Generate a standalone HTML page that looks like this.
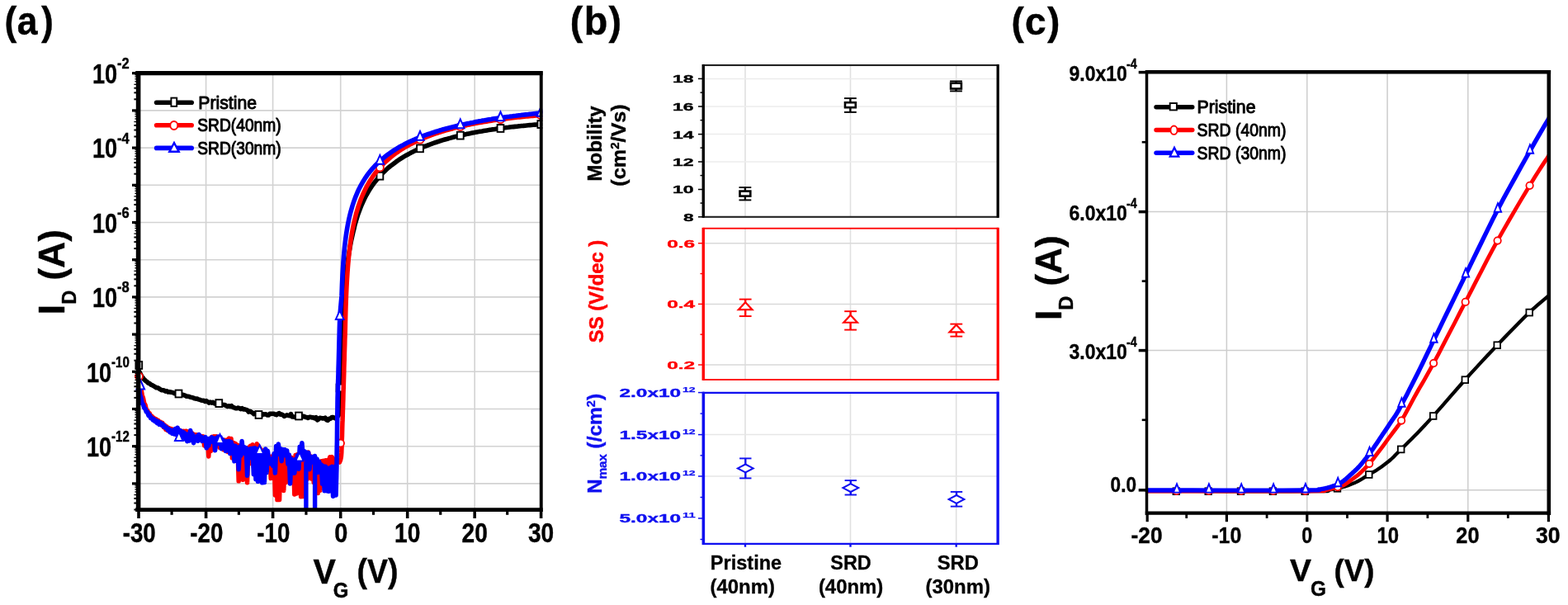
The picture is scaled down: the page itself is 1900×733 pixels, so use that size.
<!DOCTYPE html>
<html lang="en">
<head>
<meta charset="utf-8">
<title>Transfer characteristics</title>
<style>
html,body{margin:0;padding:0;background:#fff;}
body{width:1900px;height:733px;overflow:hidden;}
svg{display:block;font-family:"Liberation Sans", sans-serif;filter:blur(0.55px);}
</style>
</head>
<body>
<svg width="1900" height="733" viewBox="0 0 1900 733">
<rect x="0" y="0" width="1900" height="733" fill="#fff"/>
<g id="panel-a">
<text transform="translate(5.6 42.1) scale(0.92 1)" font-size="48.4" font-weight="bold" letter-spacing="2.6" fill="#000" stroke="#000" stroke-width="0.4">(<tspan dx="-2.2">a</tspan><tspan dx="2.2">)</tspan></text>
<line x1="249.60" y1="88.70" x2="249.60" y2="617.60" stroke="#d2d2d2" stroke-width="1.6" />
<line x1="330.60" y1="88.70" x2="330.60" y2="617.60" stroke="#d2d2d2" stroke-width="1.6" />
<line x1="412.70" y1="88.70" x2="412.70" y2="617.60" stroke="#d2d2d2" stroke-width="1.6" />
<line x1="493.70" y1="88.70" x2="493.70" y2="617.60" stroke="#d2d2d2" stroke-width="1.6" />
<line x1="575.20" y1="88.70" x2="575.20" y2="617.60" stroke="#d2d2d2" stroke-width="1.6" />
<line x1="168.00" y1="133.90" x2="655.40" y2="133.90" stroke="#d2d2d2" stroke-width="1.6" />
<line x1="168.00" y1="179.10" x2="655.40" y2="179.10" stroke="#d2d2d2" stroke-width="1.6" />
<line x1="168.00" y1="224.30" x2="655.40" y2="224.30" stroke="#d2d2d2" stroke-width="1.6" />
<line x1="168.00" y1="269.50" x2="655.40" y2="269.50" stroke="#d2d2d2" stroke-width="1.6" />
<line x1="168.00" y1="314.70" x2="655.40" y2="314.70" stroke="#d2d2d2" stroke-width="1.6" />
<line x1="168.00" y1="359.90" x2="655.40" y2="359.90" stroke="#d2d2d2" stroke-width="1.6" />
<line x1="168.00" y1="405.10" x2="655.40" y2="405.10" stroke="#d2d2d2" stroke-width="1.6" />
<line x1="168.00" y1="450.30" x2="655.40" y2="450.30" stroke="#d2d2d2" stroke-width="1.6" />
<line x1="168.00" y1="495.50" x2="655.40" y2="495.50" stroke="#d2d2d2" stroke-width="1.6" />
<line x1="168.00" y1="540.70" x2="655.40" y2="540.70" stroke="#d2d2d2" stroke-width="1.6" />
<line x1="168.00" y1="585.90" x2="655.40" y2="585.90" stroke="#d2d2d2" stroke-width="1.6" />
<g id="a-curves"></g>
<clipPath id="clipA"><rect x="162.0" y="88.7" width="495.4" height="531.9"/></clipPath>
<g clip-path="url(#clipA)">
<polyline points="168.5,449.8 170.1,452.8 171.7,456.0 173.3,457.9 174.9,459.9 176.5,461.4 178.1,462.6 179.7,464.1 181.3,464.7 182.9,466.1 184.5,466.7 186.1,467.6 187.7,468.6 189.3,469.8 190.9,469.8 192.5,470.6 194.1,471.7 195.7,472.7 197.3,472.8 198.9,473.1 200.5,474.1 202.1,473.7 203.7,475.0 205.3,474.9 206.9,475.1 208.5,475.4 210.1,475.9 211.7,476.8 213.3,476.5 214.9,477.2 216.5,477.6 218.1,477.8 219.7,478.4 221.3,478.3 222.9,478.7 224.5,479.3 226.1,480.2 227.7,480.3 229.3,480.6 230.9,481.3 232.5,481.6 234.1,481.9 235.7,482.8 237.3,483.1 238.9,483.1 240.5,483.9 242.1,484.3 243.7,485.0 245.3,485.3 246.9,485.4 248.5,486.5 250.1,485.7 251.7,486.8 253.3,488.1 254.9,487.2 256.5,488.1 258.1,487.3 259.7,488.8 261.3,489.2 262.9,488.9 264.5,489.7 266.1,488.8 267.7,490.0 269.3,490.2 270.9,490.5 272.5,490.6 274.1,491.8 275.7,492.5 277.3,491.8 278.9,492.6 280.5,491.7 282.1,493.4 283.7,493.7 285.3,494.8 286.9,494.8 288.5,494.0 290.1,494.6 291.7,495.6 293.3,494.6 294.9,495.9 296.5,495.9 298.1,496.4 299.7,496.9 301.3,499.1 302.9,498.3 304.5,499.2 306.1,500.1 307.7,501.6 309.3,500.3 310.9,501.6 312.5,502.3 314.1,503.3 315.7,503.1 317.3,503.1 318.9,501.8 320.5,502.0 322.1,501.8 323.7,502.9 325.3,503.0 326.9,501.3 328.5,501.4 330.1,501.2 331.7,501.2 333.3,502.2 334.9,502.7 336.5,501.5 338.1,500.6 339.7,502.2 341.3,502.1 342.9,502.9 344.5,504.4 346.1,503.5 347.7,502.9 349.3,503.4 350.9,503.8 352.5,501.6 354.1,505.0 355.7,504.8 357.3,505.3 358.9,505.2 360.5,503.9 362.1,504.1 363.7,503.4 365.3,505.8 366.9,504.1 368.5,504.5 370.1,505.4 371.7,505.6 373.3,506.4 374.9,505.4 376.5,505.3 378.1,505.9 379.7,505.8 381.3,506.8 382.9,505.6 384.5,508.9 386.1,507.9 387.7,506.2 389.3,506.6 390.9,506.9 392.5,507.0 394.1,506.1 395.7,508.8 397.3,509.3 398.9,507.2 400.5,507.2 402.1,505.6 403.7,505.6 405.3,506.4 407.0,507.0 407.5,507.0 412.3,500.0 412.4,496.0 412.5,492.0 412.6,488.0 412.7,484.0 412.8,480.0 412.9,476.0 413.0,472.0 413.1,468.0 413.2,464.0 413.3,460.0 413.4,456.0 413.6,452.0 413.7,448.0 413.8,444.0 413.9,440.0 414.0,436.0 414.1,432.0 414.2,428.0 414.3,424.0 414.5,420.0 414.6,416.0 414.7,412.0 414.8,408.0 414.9,404.0 415.0,400.0 415.2,396.0 415.4,392.0 415.6,388.0 415.8,384.0 416.0,380.0 416.3,376.0 416.6,372.0 416.9,368.0 417.2,364.0 417.5,360.0 417.8,356.0 418.1,352.0 418.3,348.0 418.6,344.0 418.9,340.0 419.3,336.0 419.7,332.0 420.1,328.0 420.5,324.0 421.0,320.0 421.5,316.0 422.0,312.0 422.6,308.0 423.3,304.0 424.0,300.0 424.7,296.0 425.5,292.0 426.4,288.0 427.3,284.0 428.2,280.0 429.2,276.0 430.1,272.0 431.3,268.0 432.5,264.0 433.7,260.0 435.2,256.0 436.7,252.0 438.3,248.0 440.1,244.0 442.0,240.0 444.1,236.0 446.1,232.5 448.1,229.3 450.1,226.2 452.1,223.4 454.1,220.7 456.1,218.2 458.1,215.8 460.1,213.5 462.1,211.4 464.1,209.3 466.1,207.4 468.1,205.5 470.1,203.7 472.1,202.0 474.1,200.4 476.1,198.9 478.1,197.4 480.1,195.9 482.1,194.5 484.1,193.2 486.1,191.9 488.1,190.6 490.1,189.4 492.1,188.3 494.1,187.2 496.1,186.1 498.1,185.0 500.1,184.0 502.1,183.0 504.1,182.1 506.1,181.1 508.1,180.2 510.1,179.3 512.1,178.5 514.1,177.7 516.1,176.9 518.1,176.1 520.1,175.3 522.1,174.6 524.1,173.9 526.1,173.2 528.1,172.5 530.1,171.8 532.1,171.2 534.1,170.5 536.1,169.9 538.1,169.3 540.1,168.7 542.1,168.2 544.1,167.6 546.1,167.1 548.1,166.5 550.1,166.0 552.1,165.5 554.1,165.0 556.1,164.5 558.1,164.1 560.1,163.6 562.1,163.2 564.1,162.7 566.1,162.3 568.1,161.9 570.1,161.5 572.1,161.1 574.1,160.7 576.1,160.3 578.1,159.9 580.1,159.6 582.1,159.2 584.1,158.9 586.1,158.5 588.1,158.2 590.1,157.9 592.1,157.6 594.1,157.2 596.1,156.9 598.1,156.7 600.1,156.4 602.1,156.1 604.1,155.8 606.1,155.5 608.1,155.3 610.1,155.0 612.1,154.8 614.1,154.5 616.1,154.3 618.1,154.0 620.1,153.8 622.1,153.6 624.1,153.4 626.1,153.2 628.1,152.9 630.1,152.7 632.1,152.5 634.1,152.4 636.1,152.2 638.1,152.0 640.1,151.8 642.1,151.6 644.1,151.5 646.1,151.3 648.1,151.1 650.1,151.0 652.1,150.8 654.1,150.7 655.4,150.6" fill="none" stroke="#000" stroke-width="5.6" stroke-linejoin="round" stroke-linecap="round"/>
<rect x="164.40" y="438.10" width="7.8" height="8.8" fill="#fff" stroke="#000" stroke-width="1.9"/>
<rect x="212.60" y="472.60" width="7.8" height="8.8" fill="#fff" stroke="#000" stroke-width="1.9"/>
<rect x="261.40" y="484.20" width="7.8" height="8.8" fill="#fff" stroke="#000" stroke-width="1.9"/>
<rect x="309.60" y="498.10" width="7.8" height="8.8" fill="#fff" stroke="#000" stroke-width="1.9"/>
<rect x="358.10" y="499.60" width="7.8" height="8.8" fill="#fff" stroke="#000" stroke-width="1.9"/>
<rect x="407.60" y="465.60" width="7.8" height="8.8" fill="#fff" stroke="#000" stroke-width="1.9"/>
<rect x="456.50" y="208.80" width="7.8" height="8.8" fill="#fff" stroke="#000" stroke-width="1.9"/>
<rect x="505.10" y="175.42" width="7.8" height="8.8" fill="#fff" stroke="#000" stroke-width="1.9"/>
<rect x="553.90" y="159.74" width="7.8" height="8.8" fill="#fff" stroke="#000" stroke-width="1.9"/>
<rect x="602.60" y="151.08" width="7.8" height="8.8" fill="#fff" stroke="#000" stroke-width="1.9"/>
<rect x="651.40" y="146.17" width="7.8" height="8.8" fill="#fff" stroke="#000" stroke-width="1.9"/>
<polyline points="168.3,460.2 169.6,466.8 170.9,470.4 172.2,478.5 173.5,482.4 174.8,488.5 176.1,490.9 177.4,496.5 178.7,497.4 180.0,500.9 181.3,500.7 182.6,505.0 183.9,504.2 185.2,507.0 186.5,506.3 187.8,509.1 189.1,507.9 190.4,511.5 191.7,509.3 193.0,512.7 194.3,511.1 195.6,514.7 196.9,512.4 198.2,517.7 199.5,514.9 200.8,520.4 202.1,516.8 203.4,521.7 204.7,518.6 206.0,522.6 207.3,519.6 208.6,523.0 209.9,520.4 211.2,523.3 212.5,521.1 213.8,523.5 215.1,521.6 216.4,524.7 217.7,522.2 219.0,525.9 220.3,522.3 221.6,527.4 222.9,522.4 224.2,528.6 225.5,522.2 226.8,529.4 228.1,523.1 229.4,530.5 230.7,524.5 232.0,528.9 233.3,525.1 234.6,529.8 235.9,526.6 237.2,529.5 238.5,526.9 239.8,529.9 241.1,528.2 242.4,531.5 243.7,528.5 245.0,534.2 246.3,528.9 247.6,540.0 248.9,530.6 250.2,536.4 251.5,532.5 252.8,553.0 254.1,531.7 255.4,546.6 256.7,529.2 258.0,539.3 259.3,528.8 260.6,535.9 261.9,528.8 263.2,536.5 264.5,529.8 265.8,542.3 267.1,531.3 268.4,536.6 269.7,533.1 271.0,544.9 272.3,533.2 273.6,539.7 274.9,533.0 276.2,547.6 277.5,531.0 278.8,539.5 280.1,531.5 281.4,554.8 282.7,536.3 284.0,544.0 285.3,537.4 286.6,551.6 287.9,539.3 289.2,582.8 290.5,542.6 291.8,555.3 293.1,542.6 294.4,581.3 295.7,543.9 297.0,562.2 298.3,544.3 299.6,584.7 300.9,542.2 302.2,562.0 303.5,540.2 304.8,558.5 306.1,538.7 307.4,566.1 308.7,541.7 310.0,564.4 311.3,537.8 312.6,561.8 313.9,541.5 315.2,575.4 316.5,545.4 317.8,573.6 319.1,547.9 320.4,562.2 321.7,551.2 323.0,570.4 324.3,551.3 325.6,569.3 326.9,553.4 328.2,579.6 329.5,553.1 330.8,579.4 332.1,556.7 333.4,599.9 334.7,555.8 336.0,605.6 337.3,555.1 338.6,605.5 339.9,553.6 341.2,576.2 342.5,554.0 343.8,594.4 345.1,556.6 346.4,584.5 347.7,556.8 349.0,563.3 350.3,554.6 351.6,577.8 352.9,554.3 354.2,577.3 355.5,556.3 356.8,598.9 358.1,551.4 359.4,597.9 360.7,550.6 362.0,559.3 363.3,550.8 364.6,601.7 365.9,554.5 367.2,601.5 368.5,552.5 369.8,560.8 371.1,550.8 372.4,580.3 373.7,548.1 375.0,577.7 376.3,552.7 377.6,580.1 378.9,554.8 380.2,584.4 381.5,555.5 382.8,589.7 384.1,557.4 385.4,597.4 386.7,560.8 388.0,594.2 389.3,558.7 390.6,588.3 391.9,558.3 393.2,580.6 394.5,557.8 395.8,576.1 397.1,557.3 398.4,573.0 399.7,553.8 401.0,563.1 402.3,553.6 403.6,560.7 404.9,556.3 406.2,561.8 407.5,557.1 408.8,557.7 411.5,560.0 411.7,559.5 411.9,558.9 412.2,558.3 412.5,557.4 412.8,556.4 413.1,555.0 413.4,553.2 413.6,551.0 413.8,548.2 413.9,544.8 414.1,541.0 414.2,536.9 414.3,532.6 414.5,528.3 414.6,524.0 414.7,520.0 414.8,516.2 414.9,512.7 415.1,509.2 415.2,505.6 415.3,501.9 415.4,498.0 415.6,493.7 415.7,489.0 415.9,483.7 416.0,477.8 416.2,471.5 416.4,465.1 416.6,458.5 416.8,452.0 416.9,445.8 417.1,440.0 417.3,434.3 417.4,428.4 417.6,422.6 417.8,416.9 417.9,411.7 418.1,407.0 418.2,403.0 418.3,400.0 418.5,390.3 419.0,372.0 419.5,358.3 420.0,347.4 420.5,338.3 421.0,330.6 421.5,323.8 422.0,317.8 422.5,312.4 423.0,307.5 423.5,303.0 424.0,298.8 424.5,295.0 425.0,291.4 425.5,288.1 426.0,284.9 426.5,282.0 427.0,279.2 427.5,276.5 428.0,274.0 428.5,271.6 429.0,269.3 429.5,267.1 431.5,259.1 433.5,252.2 435.5,246.2 437.5,240.8 439.5,236.0 441.5,231.6 443.5,227.5 445.5,223.8 447.5,220.4 449.5,217.2 451.5,214.2 453.5,211.4 455.5,208.8 457.5,206.3 459.5,203.9 461.5,201.7 463.5,199.6 465.5,197.6 467.5,195.7 469.5,193.9 471.5,192.1 473.5,190.5 475.5,188.8 477.5,187.3 479.5,185.8 481.5,184.4 483.5,183.0 485.5,181.7 487.5,180.5 489.5,179.2 491.5,178.0 493.5,176.9 495.5,175.8 497.5,174.7 499.5,173.7 501.5,172.7 503.5,171.7 505.5,170.8 507.5,169.8 509.5,168.9 511.5,168.1 513.5,167.2 515.5,166.4 517.5,165.6 519.5,164.9 521.5,164.1 523.5,163.4 525.5,162.7 527.5,162.0 529.5,161.3 531.5,160.6 533.5,160.0 535.5,159.4 537.5,158.8 539.5,158.2 541.5,157.6 543.5,157.0 545.5,156.5 547.5,156.0 549.5,155.4 551.5,154.9 553.5,154.4 555.5,153.9 557.5,153.5 559.5,153.0 561.5,152.5 563.5,152.1 565.5,151.7 567.5,151.2 569.5,150.8 571.5,150.4 573.5,150.0 575.5,149.6 577.5,149.3 579.5,148.9 581.5,148.5 583.5,148.2 585.5,147.8 587.5,147.5 589.5,147.2 591.5,146.8 593.5,146.5 595.5,146.2 597.5,145.9 599.5,145.6 601.5,145.3 603.5,145.1 605.5,144.8 607.5,144.5 609.5,144.2 611.5,144.0 613.5,143.7 615.5,143.5 617.5,143.3 619.5,143.0 621.5,142.8 623.5,142.6 625.5,142.3 627.5,142.1 629.5,141.9 631.5,141.7 633.5,141.5 635.5,141.3 637.5,141.1 639.5,141.0 641.5,140.8 643.5,140.6 645.5,140.4 647.5,140.3 649.5,140.1 651.5,139.9 653.5,139.8 655.4,139.6" fill="none" stroke="#f00" stroke-width="5.5" stroke-linejoin="round" stroke-linecap="round"/>
<circle cx="168.50" cy="456.00" r="4.5" fill="#fff" stroke="#f00" stroke-width="1.9"/>
<circle cx="216.80" cy="526.00" r="4.5" fill="#fff" stroke="#f00" stroke-width="1.9"/>
<circle cx="265.50" cy="535.00" r="4.5" fill="#fff" stroke="#f00" stroke-width="1.9"/>
<circle cx="314.00" cy="546.00" r="4.5" fill="#fff" stroke="#f00" stroke-width="1.9"/>
<circle cx="362.50" cy="556.00" r="4.5" fill="#fff" stroke="#f00" stroke-width="1.9"/>
<circle cx="412.50" cy="537.00" r="4.5" fill="#fff" stroke="#f00" stroke-width="1.9"/>
<circle cx="460.40" cy="202.95" r="4.5" fill="#fff" stroke="#f00" stroke-width="1.9"/>
<circle cx="509.00" cy="169.17" r="4.5" fill="#fff" stroke="#f00" stroke-width="1.9"/>
<circle cx="557.80" cy="153.38" r="4.5" fill="#fff" stroke="#f00" stroke-width="1.9"/>
<circle cx="606.50" cy="144.64" r="4.5" fill="#fff" stroke="#f00" stroke-width="1.9"/>
<circle cx="655.30" cy="139.64" r="4.5" fill="#fff" stroke="#f00" stroke-width="1.9"/>
<polyline points="168.3,466.2 169.6,478.0 170.9,482.1 172.2,488.8 173.5,490.0 174.8,494.3 176.1,495.3 177.4,499.1 178.7,499.3 180.0,503.3 181.3,502.9 182.6,506.5 183.9,506.2 185.2,508.7 186.5,507.9 187.8,510.6 189.1,509.8 190.4,512.6 191.7,510.8 193.0,514.2 194.3,512.2 195.6,514.9 196.9,513.7 198.2,516.8 199.5,516.1 200.8,518.5 202.1,518.1 203.4,521.2 204.7,519.9 206.0,523.7 207.3,521.2 208.6,525.0 209.9,521.4 211.2,525.9 212.5,519.6 213.8,526.5 215.1,518.2 216.4,527.6 217.7,521.2 219.0,528.7 220.3,522.7 221.6,529.7 222.9,524.0 224.2,531.9 225.5,525.9 226.8,534.7 228.1,526.0 229.4,533.9 230.7,521.5 232.0,529.2 233.3,526.0 234.6,536.7 235.9,531.0 237.2,533.3 238.5,528.6 239.8,534.2 241.1,526.5 242.4,531.8 243.7,529.1 245.0,534.4 246.3,530.4 247.6,533.9 248.9,529.6 250.2,542.8 251.5,531.7 252.8,540.1 254.1,531.4 255.4,535.4 256.7,529.9 258.0,533.6 259.3,531.3 260.6,545.7 261.9,530.8 263.2,537.8 264.5,529.0 265.8,534.4 267.1,529.6 268.4,543.8 269.7,532.5 271.0,541.2 272.3,534.6 273.6,546.4 274.9,534.8 276.2,541.1 277.5,534.6 278.8,549.4 280.1,535.5 281.4,543.6 282.7,539.6 284.0,558.7 285.3,540.3 286.6,553.5 287.9,542.5 289.2,568.6 290.5,541.3 291.8,552.1 293.1,534.6 294.4,548.4 295.7,541.4 297.0,549.7 298.3,542.8 299.6,576.2 300.9,547.6 302.2,555.0 303.5,543.5 304.8,552.6 306.1,543.2 307.4,574.7 308.7,542.9 310.0,580.6 311.3,544.1 312.6,583.3 313.9,547.1 315.2,580.1 316.5,546.8 317.8,584.8 319.1,547.3 320.4,584.4 321.7,544.0 323.0,572.7 324.3,546.3 325.6,554.9 326.9,555.5 328.2,561.9 329.5,557.3 330.8,564.4 332.1,549.5 333.4,573.0 334.7,540.5 336.0,550.8 337.3,538.0 338.6,548.0 339.9,543.6 341.2,558.6 342.5,544.6 343.8,550.2 345.1,544.8 346.4,551.9 347.7,546.0 349.0,562.3 350.3,551.1 351.6,586.0 352.9,555.8 354.2,568.3 355.5,558.0 356.8,573.3 358.1,556.4 359.4,563.2 360.7,551.5 362.0,568.2 363.3,541.2 364.6,547.9 365.9,536.7 367.2,555.2 368.5,546.4 369.8,553.8 371.1,548.1 372.4,564.2 373.7,548.5 375.0,568.6 376.3,553.3 377.6,558.6 378.9,553.6 380.2,560.3 381.5,552.6 382.8,571.0 384.1,556.1 385.4,572.4 386.7,559.2 388.0,570.7 389.3,562.9 390.6,586.2 391.9,564.8 393.2,594.7 394.5,565.2 395.8,594.6 397.1,567.7 398.4,595.3 399.7,566.9 401.0,577.9 402.3,565.3 403.6,601.1 404.9,565.6 406.2,578.3 407.0,600.0 407.1,597.1 407.2,593.5 407.3,589.3 407.4,584.4 407.6,579.0 407.7,573.1 407.9,566.8 408.0,560.0 408.1,552.5 408.2,543.9 408.4,534.7 408.5,525.1 408.6,515.4 408.7,505.9 408.9,497.0 409.0,489.0 409.1,481.9 409.3,475.4 409.5,469.3 409.6,463.6 409.8,458.0 410.0,452.3 410.1,446.3 410.3,440.0 410.5,432.9 410.7,425.1 410.9,416.9 411.1,408.7 411.3,400.9 411.5,393.8 411.7,387.9 411.8,383.5 414.0,358.2 414.5,344.3 415.0,333.5 415.5,324.7 416.0,317.3 416.5,310.8 417.0,305.2 417.5,300.1 418.0,295.5 418.5,291.4 419.0,287.5 419.5,284.0 420.0,280.7 420.5,277.6 421.0,274.7 421.5,272.0 422.0,269.5 422.5,267.0 423.0,264.7 423.5,262.5 424.0,260.4 424.5,258.4 425.0,256.5 427.0,249.5 429.0,243.4 431.0,238.1 433.0,233.3 435.0,229.0 437.0,225.1 439.0,221.5 441.0,218.2 443.0,215.1 445.0,212.2 447.0,209.5 449.0,207.0 451.0,204.6 453.0,202.4 455.0,200.3 457.0,198.3 459.0,196.3 461.0,194.5 463.0,192.8 465.0,191.1 467.0,189.5 469.0,187.9 471.0,186.5 473.0,185.1 475.0,183.7 477.0,182.4 479.0,181.1 481.0,179.9 483.0,178.7 485.0,177.5 487.0,176.4 489.0,175.4 491.0,174.3 493.0,173.3 495.0,172.3 497.0,171.4 499.0,170.5 501.0,169.6 503.0,168.7 505.0,167.9 507.0,167.0 509.0,166.2 511.0,165.4 513.0,164.7 515.0,163.9 517.0,163.2 519.0,162.5 521.0,161.8 523.0,161.1 525.0,160.5 527.0,159.8 529.0,159.2 531.0,158.6 533.0,158.0 535.0,157.4 537.0,156.8 539.0,156.3 541.0,155.7 543.0,155.2 545.0,154.7 547.0,154.2 549.0,153.7 551.0,153.2 553.0,152.7 555.0,152.2 557.0,151.7 559.0,151.3 561.0,150.8 563.0,150.4 565.0,150.0 567.0,149.6 569.0,149.2 571.0,148.7 573.0,148.4 575.0,148.0 577.0,147.6 579.0,147.2 581.0,146.8 583.0,146.5 585.0,146.1 587.0,145.8 589.0,145.4 591.0,145.1 593.0,144.8 595.0,144.5 597.0,144.1 599.0,143.8 601.0,143.5 603.0,143.2 605.0,142.9 607.0,142.6 609.0,142.4 611.0,142.1 613.0,141.8 615.0,141.5 617.0,141.3 619.0,141.0 621.0,140.8 623.0,140.5 625.0,140.3 627.0,140.0 629.0,139.8 631.0,139.6 633.0,139.3 635.0,139.1 637.0,138.9 639.0,138.7 641.0,138.4 643.0,138.2 645.0,138.0 647.0,137.8 649.0,137.6 651.0,137.4 653.0,137.2 655.0,137.1 655.4,137.0" fill="none" stroke="#00f" stroke-width="5.6" stroke-linejoin="round" stroke-linecap="round"/>
<polyline points="370.9,560.0 370.9,620.0" fill="none" stroke="#00f" stroke-width="5.4" stroke-linecap="butt"/>
<polyline points="381.6,560.0 381.6,620.0" fill="none" stroke="#00f" stroke-width="5.4" stroke-linecap="butt"/>
<polygon points="170.30,460.80 165.50,471.60 175.10,471.60" fill="#fff" stroke="#00f" stroke-width="2.0" stroke-linejoin="miter"/>
<polygon points="216.80,523.30 212.00,534.10 221.60,534.10" fill="#fff" stroke="#00f" stroke-width="2.0" stroke-linejoin="miter"/>
<polygon points="266.50,526.30 261.70,537.10 271.30,537.10" fill="#fff" stroke="#00f" stroke-width="2.0" stroke-linejoin="miter"/>
<polygon points="314.60,539.30 309.80,550.10 319.40,550.10" fill="#fff" stroke="#00f" stroke-width="2.0" stroke-linejoin="miter"/>
<polygon points="363.00,547.80 358.20,558.60 367.80,558.60" fill="#fff" stroke="#00f" stroke-width="2.0" stroke-linejoin="miter"/>
<polygon points="411.70,376.10 406.90,386.90 416.50,386.90" fill="#fff" stroke="#00f" stroke-width="2.0" stroke-linejoin="miter"/>
<polygon points="460.40,187.85 455.60,198.65 465.20,198.65" fill="#fff" stroke="#00f" stroke-width="2.0" stroke-linejoin="miter"/>
<polygon points="509.00,159.03 504.20,169.83 513.80,169.83" fill="#fff" stroke="#00f" stroke-width="2.0" stroke-linejoin="miter"/>
<polygon points="557.80,144.36 553.00,155.16 562.60,155.16" fill="#fff" stroke="#00f" stroke-width="2.0" stroke-linejoin="miter"/>
<polygon points="606.50,135.52 601.70,146.32 611.30,146.32" fill="#fff" stroke="#00f" stroke-width="2.0" stroke-linejoin="miter"/>
<polygon points="655.30,129.83 650.50,140.63 660.10,140.63" fill="#fff" stroke="#00f" stroke-width="2.0" stroke-linejoin="miter"/>
</g>
<line x1="167.60" y1="86.20" x2="167.60" y2="619.90" stroke="#000" stroke-width="5.6" />
<line x1="164.20" y1="88.70" x2="657.60" y2="88.70" stroke="#000" stroke-width="5.2" />
<line x1="655.75" y1="86.20" x2="655.75" y2="619.90" stroke="#000" stroke-width="3.9" />
<line x1="164.20" y1="617.60" x2="657.70" y2="617.60" stroke="#000" stroke-width="4.6" />
<line x1="160.00" y1="88.70" x2="168.00" y2="88.70" stroke="#000" stroke-width="3.2" />
<line x1="162.40" y1="120.29" x2="168.00" y2="120.29" stroke="#000" stroke-width="2.0" />
<line x1="162.40" y1="112.33" x2="168.00" y2="112.33" stroke="#000" stroke-width="2.0" />
<line x1="162.40" y1="106.69" x2="168.00" y2="106.69" stroke="#000" stroke-width="2.0" />
<line x1="162.40" y1="102.31" x2="168.00" y2="102.31" stroke="#000" stroke-width="1.3" />
<line x1="163.40" y1="98.73" x2="168.00" y2="98.73" stroke="#000" stroke-width="1.3" />
<line x1="163.40" y1="95.70" x2="168.00" y2="95.70" stroke="#000" stroke-width="1.3" />
<line x1="163.40" y1="93.08" x2="168.00" y2="93.08" stroke="#000" stroke-width="1.3" />
<line x1="163.40" y1="90.77" x2="168.00" y2="90.77" stroke="#000" stroke-width="1.3" />
<line x1="160.00" y1="133.90" x2="168.00" y2="133.90" stroke="#000" stroke-width="3.2" />
<line x1="162.40" y1="165.49" x2="168.00" y2="165.49" stroke="#000" stroke-width="2.0" />
<line x1="162.40" y1="157.53" x2="168.00" y2="157.53" stroke="#000" stroke-width="2.0" />
<line x1="162.40" y1="151.89" x2="168.00" y2="151.89" stroke="#000" stroke-width="2.0" />
<line x1="162.40" y1="147.51" x2="168.00" y2="147.51" stroke="#000" stroke-width="1.3" />
<line x1="163.40" y1="143.93" x2="168.00" y2="143.93" stroke="#000" stroke-width="1.3" />
<line x1="163.40" y1="140.90" x2="168.00" y2="140.90" stroke="#000" stroke-width="1.3" />
<line x1="163.40" y1="138.28" x2="168.00" y2="138.28" stroke="#000" stroke-width="1.3" />
<line x1="163.40" y1="135.97" x2="168.00" y2="135.97" stroke="#000" stroke-width="1.3" />
<line x1="160.00" y1="179.10" x2="168.00" y2="179.10" stroke="#000" stroke-width="3.2" />
<line x1="162.40" y1="210.69" x2="168.00" y2="210.69" stroke="#000" stroke-width="2.0" />
<line x1="162.40" y1="202.73" x2="168.00" y2="202.73" stroke="#000" stroke-width="2.0" />
<line x1="162.40" y1="197.09" x2="168.00" y2="197.09" stroke="#000" stroke-width="2.0" />
<line x1="162.40" y1="192.71" x2="168.00" y2="192.71" stroke="#000" stroke-width="1.3" />
<line x1="163.40" y1="189.13" x2="168.00" y2="189.13" stroke="#000" stroke-width="1.3" />
<line x1="163.40" y1="186.10" x2="168.00" y2="186.10" stroke="#000" stroke-width="1.3" />
<line x1="163.40" y1="183.48" x2="168.00" y2="183.48" stroke="#000" stroke-width="1.3" />
<line x1="163.40" y1="181.17" x2="168.00" y2="181.17" stroke="#000" stroke-width="1.3" />
<line x1="160.00" y1="224.30" x2="168.00" y2="224.30" stroke="#000" stroke-width="3.2" />
<line x1="162.40" y1="255.89" x2="168.00" y2="255.89" stroke="#000" stroke-width="2.0" />
<line x1="162.40" y1="247.93" x2="168.00" y2="247.93" stroke="#000" stroke-width="2.0" />
<line x1="162.40" y1="242.29" x2="168.00" y2="242.29" stroke="#000" stroke-width="2.0" />
<line x1="162.40" y1="237.91" x2="168.00" y2="237.91" stroke="#000" stroke-width="1.3" />
<line x1="163.40" y1="234.33" x2="168.00" y2="234.33" stroke="#000" stroke-width="1.3" />
<line x1="163.40" y1="231.30" x2="168.00" y2="231.30" stroke="#000" stroke-width="1.3" />
<line x1="163.40" y1="228.68" x2="168.00" y2="228.68" stroke="#000" stroke-width="1.3" />
<line x1="163.40" y1="226.37" x2="168.00" y2="226.37" stroke="#000" stroke-width="1.3" />
<line x1="160.00" y1="269.50" x2="168.00" y2="269.50" stroke="#000" stroke-width="3.2" />
<line x1="162.40" y1="301.09" x2="168.00" y2="301.09" stroke="#000" stroke-width="2.0" />
<line x1="162.40" y1="293.13" x2="168.00" y2="293.13" stroke="#000" stroke-width="2.0" />
<line x1="162.40" y1="287.49" x2="168.00" y2="287.49" stroke="#000" stroke-width="2.0" />
<line x1="162.40" y1="283.11" x2="168.00" y2="283.11" stroke="#000" stroke-width="1.3" />
<line x1="163.40" y1="279.53" x2="168.00" y2="279.53" stroke="#000" stroke-width="1.3" />
<line x1="163.40" y1="276.50" x2="168.00" y2="276.50" stroke="#000" stroke-width="1.3" />
<line x1="163.40" y1="273.88" x2="168.00" y2="273.88" stroke="#000" stroke-width="1.3" />
<line x1="163.40" y1="271.57" x2="168.00" y2="271.57" stroke="#000" stroke-width="1.3" />
<line x1="160.00" y1="314.70" x2="168.00" y2="314.70" stroke="#000" stroke-width="3.2" />
<line x1="162.40" y1="346.29" x2="168.00" y2="346.29" stroke="#000" stroke-width="2.0" />
<line x1="162.40" y1="338.33" x2="168.00" y2="338.33" stroke="#000" stroke-width="2.0" />
<line x1="162.40" y1="332.69" x2="168.00" y2="332.69" stroke="#000" stroke-width="2.0" />
<line x1="162.40" y1="328.31" x2="168.00" y2="328.31" stroke="#000" stroke-width="1.3" />
<line x1="163.40" y1="324.73" x2="168.00" y2="324.73" stroke="#000" stroke-width="1.3" />
<line x1="163.40" y1="321.70" x2="168.00" y2="321.70" stroke="#000" stroke-width="1.3" />
<line x1="163.40" y1="319.08" x2="168.00" y2="319.08" stroke="#000" stroke-width="1.3" />
<line x1="163.40" y1="316.77" x2="168.00" y2="316.77" stroke="#000" stroke-width="1.3" />
<line x1="160.00" y1="359.90" x2="168.00" y2="359.90" stroke="#000" stroke-width="3.2" />
<line x1="162.40" y1="391.49" x2="168.00" y2="391.49" stroke="#000" stroke-width="2.0" />
<line x1="162.40" y1="383.53" x2="168.00" y2="383.53" stroke="#000" stroke-width="2.0" />
<line x1="162.40" y1="377.89" x2="168.00" y2="377.89" stroke="#000" stroke-width="2.0" />
<line x1="162.40" y1="373.51" x2="168.00" y2="373.51" stroke="#000" stroke-width="1.3" />
<line x1="163.40" y1="369.93" x2="168.00" y2="369.93" stroke="#000" stroke-width="1.3" />
<line x1="163.40" y1="366.90" x2="168.00" y2="366.90" stroke="#000" stroke-width="1.3" />
<line x1="163.40" y1="364.28" x2="168.00" y2="364.28" stroke="#000" stroke-width="1.3" />
<line x1="163.40" y1="361.97" x2="168.00" y2="361.97" stroke="#000" stroke-width="1.3" />
<line x1="160.00" y1="405.10" x2="168.00" y2="405.10" stroke="#000" stroke-width="3.2" />
<line x1="162.40" y1="436.69" x2="168.00" y2="436.69" stroke="#000" stroke-width="2.0" />
<line x1="162.40" y1="428.73" x2="168.00" y2="428.73" stroke="#000" stroke-width="2.0" />
<line x1="162.40" y1="423.09" x2="168.00" y2="423.09" stroke="#000" stroke-width="2.0" />
<line x1="162.40" y1="418.71" x2="168.00" y2="418.71" stroke="#000" stroke-width="1.3" />
<line x1="163.40" y1="415.13" x2="168.00" y2="415.13" stroke="#000" stroke-width="1.3" />
<line x1="163.40" y1="412.10" x2="168.00" y2="412.10" stroke="#000" stroke-width="1.3" />
<line x1="163.40" y1="409.48" x2="168.00" y2="409.48" stroke="#000" stroke-width="1.3" />
<line x1="163.40" y1="407.17" x2="168.00" y2="407.17" stroke="#000" stroke-width="1.3" />
<line x1="160.00" y1="450.30" x2="168.00" y2="450.30" stroke="#000" stroke-width="3.2" />
<line x1="162.40" y1="481.89" x2="168.00" y2="481.89" stroke="#000" stroke-width="2.0" />
<line x1="162.40" y1="473.93" x2="168.00" y2="473.93" stroke="#000" stroke-width="2.0" />
<line x1="162.40" y1="468.29" x2="168.00" y2="468.29" stroke="#000" stroke-width="2.0" />
<line x1="162.40" y1="463.91" x2="168.00" y2="463.91" stroke="#000" stroke-width="1.3" />
<line x1="163.40" y1="460.33" x2="168.00" y2="460.33" stroke="#000" stroke-width="1.3" />
<line x1="163.40" y1="457.30" x2="168.00" y2="457.30" stroke="#000" stroke-width="1.3" />
<line x1="163.40" y1="454.68" x2="168.00" y2="454.68" stroke="#000" stroke-width="1.3" />
<line x1="163.40" y1="452.37" x2="168.00" y2="452.37" stroke="#000" stroke-width="1.3" />
<line x1="160.00" y1="495.50" x2="168.00" y2="495.50" stroke="#000" stroke-width="3.2" />
<line x1="162.40" y1="527.09" x2="168.00" y2="527.09" stroke="#000" stroke-width="2.0" />
<line x1="162.40" y1="519.13" x2="168.00" y2="519.13" stroke="#000" stroke-width="2.0" />
<line x1="162.40" y1="513.49" x2="168.00" y2="513.49" stroke="#000" stroke-width="2.0" />
<line x1="162.40" y1="509.11" x2="168.00" y2="509.11" stroke="#000" stroke-width="1.3" />
<line x1="163.40" y1="505.53" x2="168.00" y2="505.53" stroke="#000" stroke-width="1.3" />
<line x1="163.40" y1="502.50" x2="168.00" y2="502.50" stroke="#000" stroke-width="1.3" />
<line x1="163.40" y1="499.88" x2="168.00" y2="499.88" stroke="#000" stroke-width="1.3" />
<line x1="163.40" y1="497.57" x2="168.00" y2="497.57" stroke="#000" stroke-width="1.3" />
<line x1="160.00" y1="540.70" x2="168.00" y2="540.70" stroke="#000" stroke-width="3.2" />
<line x1="162.40" y1="572.29" x2="168.00" y2="572.29" stroke="#000" stroke-width="2.0" />
<line x1="162.40" y1="564.33" x2="168.00" y2="564.33" stroke="#000" stroke-width="2.0" />
<line x1="162.40" y1="558.69" x2="168.00" y2="558.69" stroke="#000" stroke-width="2.0" />
<line x1="162.40" y1="554.31" x2="168.00" y2="554.31" stroke="#000" stroke-width="1.3" />
<line x1="163.40" y1="550.73" x2="168.00" y2="550.73" stroke="#000" stroke-width="1.3" />
<line x1="163.40" y1="547.70" x2="168.00" y2="547.70" stroke="#000" stroke-width="1.3" />
<line x1="163.40" y1="545.08" x2="168.00" y2="545.08" stroke="#000" stroke-width="1.3" />
<line x1="163.40" y1="542.77" x2="168.00" y2="542.77" stroke="#000" stroke-width="1.3" />
<line x1="160.00" y1="585.90" x2="168.00" y2="585.90" stroke="#000" stroke-width="3.2" />
<line x1="162.40" y1="617.49" x2="168.00" y2="617.49" stroke="#000" stroke-width="2.0" />
<line x1="162.40" y1="609.53" x2="168.00" y2="609.53" stroke="#000" stroke-width="2.0" />
<line x1="162.40" y1="603.89" x2="168.00" y2="603.89" stroke="#000" stroke-width="2.0" />
<line x1="162.40" y1="599.51" x2="168.00" y2="599.51" stroke="#000" stroke-width="1.3" />
<line x1="163.40" y1="595.93" x2="168.00" y2="595.93" stroke="#000" stroke-width="1.3" />
<line x1="163.40" y1="592.90" x2="168.00" y2="592.90" stroke="#000" stroke-width="1.3" />
<line x1="163.40" y1="590.28" x2="168.00" y2="590.28" stroke="#000" stroke-width="1.3" />
<line x1="163.40" y1="587.97" x2="168.00" y2="587.97" stroke="#000" stroke-width="1.3" />
<line x1="168.00" y1="617.60" x2="168.00" y2="628.00" stroke="#000" stroke-width="3.6" />
<line x1="208.10" y1="617.60" x2="208.10" y2="623.80" stroke="#000" stroke-width="3.2" />
<line x1="249.60" y1="617.60" x2="249.60" y2="628.00" stroke="#000" stroke-width="3.6" />
<line x1="289.40" y1="617.60" x2="289.40" y2="623.80" stroke="#000" stroke-width="3.2" />
<line x1="330.60" y1="617.60" x2="330.60" y2="628.00" stroke="#000" stroke-width="3.6" />
<line x1="370.95" y1="617.60" x2="370.95" y2="623.80" stroke="#000" stroke-width="3.2" />
<line x1="412.70" y1="617.60" x2="412.70" y2="628.00" stroke="#000" stroke-width="3.6" />
<line x1="452.50" y1="617.60" x2="452.50" y2="623.80" stroke="#000" stroke-width="3.2" />
<line x1="493.70" y1="617.60" x2="493.70" y2="628.00" stroke="#000" stroke-width="3.6" />
<line x1="533.75" y1="617.60" x2="533.75" y2="623.80" stroke="#000" stroke-width="3.2" />
<line x1="575.20" y1="617.60" x2="575.20" y2="628.00" stroke="#000" stroke-width="3.6" />
<line x1="614.70" y1="617.60" x2="614.70" y2="623.80" stroke="#000" stroke-width="3.2" />
<line x1="655.60" y1="617.60" x2="655.60" y2="628.00" stroke="#000" stroke-width="3.6" />
<text x="168.70" y="657.10" font-size="32.6" font-weight="bold" text-anchor="middle" fill="#000" textLength="40.00" lengthAdjust="spacingAndGlyphs" stroke="#000" stroke-width="0.4" >-30</text>
<text x="250.30" y="657.10" font-size="32.6" font-weight="bold" text-anchor="middle" fill="#000" textLength="40.00" lengthAdjust="spacingAndGlyphs" stroke="#000" stroke-width="0.4" >-20</text>
<text x="331.30" y="657.10" font-size="32.6" font-weight="bold" text-anchor="middle" fill="#000" textLength="40.00" lengthAdjust="spacingAndGlyphs" stroke="#000" stroke-width="0.4" >-10</text>
<text x="413.40" y="657.10" font-size="32.6" font-weight="bold" text-anchor="middle" fill="#000" textLength="16.10" lengthAdjust="spacingAndGlyphs" stroke="#000" stroke-width="0.4" >0</text>
<text x="493.70" y="657.10" font-size="32.6" font-weight="bold" text-anchor="middle" fill="#000" textLength="31.30" lengthAdjust="spacingAndGlyphs" stroke="#000" stroke-width="0.4" >10</text>
<text x="575.20" y="657.10" font-size="32.6" font-weight="bold" text-anchor="middle" fill="#000" textLength="31.30" lengthAdjust="spacingAndGlyphs" stroke="#000" stroke-width="0.4" >20</text>
<text x="655.60" y="657.10" font-size="32.6" font-weight="bold" text-anchor="middle" fill="#000" textLength="31.30" lengthAdjust="spacingAndGlyphs" stroke="#000" stroke-width="0.4" >30</text>
<text x="142.10" y="101.00" font-size="32.4" font-weight="bold" text-anchor="end" fill="#000" textLength="30.20" lengthAdjust="spacingAndGlyphs" stroke="#000" stroke-width="0.4" >10</text>
<text x="156.80" y="83.10" font-size="17.8" font-weight="bold" text-anchor="end" fill="#000" textLength="14.70" lengthAdjust="spacingAndGlyphs" stroke="#000" stroke-width="0.4" >-2</text>
<text x="142.10" y="191.40" font-size="32.4" font-weight="bold" text-anchor="end" fill="#000" textLength="30.20" lengthAdjust="spacingAndGlyphs" stroke="#000" stroke-width="0.4" >10</text>
<text x="156.80" y="173.50" font-size="17.8" font-weight="bold" text-anchor="end" fill="#000" textLength="14.70" lengthAdjust="spacingAndGlyphs" stroke="#000" stroke-width="0.4" >-4</text>
<text x="142.10" y="281.80" font-size="32.4" font-weight="bold" text-anchor="end" fill="#000" textLength="30.20" lengthAdjust="spacingAndGlyphs" stroke="#000" stroke-width="0.4" >10</text>
<text x="156.80" y="263.90" font-size="17.8" font-weight="bold" text-anchor="end" fill="#000" textLength="14.70" lengthAdjust="spacingAndGlyphs" stroke="#000" stroke-width="0.4" >-6</text>
<text x="142.10" y="372.20" font-size="32.4" font-weight="bold" text-anchor="end" fill="#000" textLength="30.20" lengthAdjust="spacingAndGlyphs" stroke="#000" stroke-width="0.4" >10</text>
<text x="156.80" y="354.30" font-size="17.8" font-weight="bold" text-anchor="end" fill="#000" textLength="14.70" lengthAdjust="spacingAndGlyphs" stroke="#000" stroke-width="0.4" >-8</text>
<text x="135.10" y="462.60" font-size="32.4" font-weight="bold" text-anchor="end" fill="#000" textLength="30.20" lengthAdjust="spacingAndGlyphs" stroke="#000" stroke-width="0.4" >10</text>
<text x="156.80" y="444.70" font-size="17.8" font-weight="bold" text-anchor="end" fill="#000" textLength="21.70" lengthAdjust="spacingAndGlyphs" stroke="#000" stroke-width="0.4" >-10</text>
<text x="135.10" y="553.00" font-size="32.4" font-weight="bold" text-anchor="end" fill="#000" textLength="30.20" lengthAdjust="spacingAndGlyphs" stroke="#000" stroke-width="0.4" >10</text>
<text x="156.80" y="535.10" font-size="17.8" font-weight="bold" text-anchor="end" fill="#000" textLength="21.70" lengthAdjust="spacingAndGlyphs" stroke="#000" stroke-width="0.4" >-12</text>
<text x="379.50" y="706.50" font-size="42" font-weight="bold" text-anchor="start" fill="#000" textLength="27.40" lengthAdjust="spacingAndGlyphs" stroke="#000" stroke-width="0.4" >V</text>
<text x="403.80" y="724.00" font-size="25" font-weight="bold" text-anchor="start" fill="#000" textLength="18.60" lengthAdjust="spacingAndGlyphs" stroke="#000" stroke-width="0.5">G</text>
<text x="432.60" y="706.40" font-size="40" font-weight="bold" text-anchor="start" fill="#000" textLength="50.00" lengthAdjust="spacingAndGlyphs" stroke="#000" stroke-width="0.4" >(V)</text>
<text transform="translate(78.4 381.2) rotate(-90) scale(0.985 1)" font-size="45" font-weight="bold" fill="#000" stroke="#000" stroke-width="0.4">I<tspan font-size="24" dy="14">D</tspan><tspan dy="-14" font-size="45"> (A)</tspan></text>
<line x1="189.60" y1="124.20" x2="232.20" y2="124.20" stroke="#000" stroke-width="5.6" stroke-linecap="round"/>
<rect x="207.40" y="118.60" width="6.8" height="10.2" fill="#fff" stroke="#000" stroke-width="1.9"/>
<text x="240.20" y="131.60" font-size="21.6" font-weight="normal" text-anchor="start" fill="#000" textLength="71.00" lengthAdjust="spacingAndGlyphs" stroke="#000" stroke-width="1.0" stroke-linejoin="round">Pristine</text>
<line x1="189.60" y1="151.80" x2="232.20" y2="151.80" stroke="#f00" stroke-width="5.6" stroke-linecap="round"/>
<ellipse cx="210.8" cy="152.00" rx="4.5" ry="5.0" fill="#fff" stroke="#f00" stroke-width="1.9"/>
<text x="239.20" y="159.20" font-size="21.6" font-weight="normal" text-anchor="start" fill="#000" textLength="101.50" lengthAdjust="spacingAndGlyphs" stroke="#000" stroke-width="1.0" stroke-linejoin="round">SRD(40nm)</text>
<line x1="189.60" y1="179.40" x2="232.20" y2="179.40" stroke="#00f" stroke-width="5.6" stroke-linecap="round"/>
<polygon points="211.00,173.00 205.30,183.80 216.70,183.80" fill="#fff" stroke="#00f" stroke-width="2.4" stroke-linejoin="miter"/>
<text x="239.20" y="186.80" font-size="21.6" font-weight="normal" text-anchor="start" fill="#000" textLength="101.50" lengthAdjust="spacingAndGlyphs" stroke="#000" stroke-width="1.0" stroke-linejoin="round">SRD(30nm)</text>
</g>
<g id="panel-b">
<text transform="translate(690.8 42.3) scale(0.99 1)" font-size="47.2" font-weight="bold" letter-spacing="1.3" fill="#000" stroke="#000" stroke-width="0.4">(b)</text>
<line x1="903.00" y1="79.00" x2="903.00" y2="262.80" stroke="#e0e0e0" stroke-width="1.6" />
<line x1="1030.50" y1="79.00" x2="1030.50" y2="262.80" stroke="#e0e0e0" stroke-width="1.6" />
<line x1="1158.70" y1="79.00" x2="1158.70" y2="262.80" stroke="#e0e0e0" stroke-width="1.6" />
<line x1="853.00" y1="95.40" x2="1208.90" y2="95.40" stroke="#ececec" stroke-width="1.5" />
<line x1="853.00" y1="129.00" x2="1208.90" y2="129.00" stroke="#ececec" stroke-width="1.5" />
<line x1="853.00" y1="162.60" x2="1208.90" y2="162.60" stroke="#ececec" stroke-width="1.5" />
<line x1="853.00" y1="196.00" x2="1208.90" y2="196.00" stroke="#ececec" stroke-width="1.5" />
<line x1="902.90" y1="227.10" x2="902.90" y2="242.40" stroke="#000" stroke-width="2.4" />
<line x1="895.50" y1="227.10" x2="910.30" y2="227.10" stroke="#000" stroke-width="1.9" />
<line x1="895.50" y1="242.40" x2="910.30" y2="242.40" stroke="#000" stroke-width="1.9" />
<rect x="896.50" y="231.60" width="12.8" height="6.0" fill="#fff" stroke="#000" stroke-width="2.6"/>
<line x1="1030.40" y1="119.10" x2="1030.40" y2="135.90" stroke="#000" stroke-width="2.4" />
<line x1="1023.00" y1="119.10" x2="1037.80" y2="119.10" stroke="#000" stroke-width="1.9" />
<line x1="1023.00" y1="135.90" x2="1037.80" y2="135.90" stroke="#000" stroke-width="1.9" />
<rect x="1024.00" y="124.20" width="12.8" height="6.0" fill="#fff" stroke="#000" stroke-width="2.6"/>
<line x1="1158.50" y1="98.40" x2="1158.50" y2="110.40" stroke="#000" stroke-width="2.4" />
<line x1="1151.10" y1="98.40" x2="1165.90" y2="98.40" stroke="#000" stroke-width="1.9" />
<line x1="1151.10" y1="110.40" x2="1165.90" y2="110.40" stroke="#000" stroke-width="1.9" />
<rect x="1152.10" y="100.70" width="12.8" height="6.8" fill="#fff" stroke="#000" stroke-width="2.6"/>
<rect x="853.00" y="79.00" width="355.90" height="183.80" fill="none" stroke="#222" stroke-width="2.1"/>
<line x1="852.10" y1="77.95" x2="852.10" y2="263.85" stroke="#000" stroke-width="3.1" />
<line x1="1209.20" y1="77.95" x2="1209.20" y2="263.85" stroke="#000" stroke-width="3.2" />
<line x1="846.00" y1="95.40" x2="853.00" y2="95.40" stroke="#000" stroke-width="1.5" />
<text x="840.60" y="100.30" font-size="13.6" font-weight="bold" text-anchor="end" fill="#000" textLength="25.60" lengthAdjust="spacingAndGlyphs" stroke="#000" stroke-width="0.35">18</text>
<line x1="846.00" y1="129.00" x2="853.00" y2="129.00" stroke="#000" stroke-width="1.5" />
<text x="840.60" y="133.90" font-size="13.6" font-weight="bold" text-anchor="end" fill="#000" textLength="25.60" lengthAdjust="spacingAndGlyphs" stroke="#000" stroke-width="0.35">16</text>
<line x1="846.00" y1="162.60" x2="853.00" y2="162.60" stroke="#000" stroke-width="1.5" />
<text x="840.60" y="167.50" font-size="13.6" font-weight="bold" text-anchor="end" fill="#000" textLength="25.60" lengthAdjust="spacingAndGlyphs" stroke="#000" stroke-width="0.35">14</text>
<line x1="846.00" y1="196.00" x2="853.00" y2="196.00" stroke="#000" stroke-width="1.5" />
<text x="840.60" y="200.90" font-size="13.6" font-weight="bold" text-anchor="end" fill="#000" textLength="25.60" lengthAdjust="spacingAndGlyphs" stroke="#000" stroke-width="0.35">12</text>
<line x1="846.00" y1="229.50" x2="853.00" y2="229.50" stroke="#000" stroke-width="1.5" />
<text x="840.60" y="234.40" font-size="13.6" font-weight="bold" text-anchor="end" fill="#000" textLength="25.60" lengthAdjust="spacingAndGlyphs" stroke="#000" stroke-width="0.35">10</text>
<line x1="846.00" y1="262.80" x2="853.00" y2="262.80" stroke="#000" stroke-width="1.5" />
<text x="840.60" y="267.70" font-size="13.6" font-weight="bold" text-anchor="end" fill="#000" textLength="12.60" lengthAdjust="spacingAndGlyphs" stroke="#000" stroke-width="0.35">8</text>
<line x1="848.50" y1="112.14" x2="853.00" y2="112.14" stroke="#000" stroke-width="1.4" />
<line x1="848.50" y1="145.62" x2="853.00" y2="145.62" stroke="#000" stroke-width="1.4" />
<line x1="848.50" y1="179.10" x2="853.00" y2="179.10" stroke="#000" stroke-width="1.4" />
<line x1="848.50" y1="212.58" x2="853.00" y2="212.58" stroke="#000" stroke-width="1.4" />
<line x1="848.50" y1="246.06" x2="853.00" y2="246.06" stroke="#000" stroke-width="1.4" />
<text transform="translate(729 174) rotate(-90)" font-size="23.5" font-weight="bold" text-anchor="middle" fill="#000" stroke="#000" stroke-width="0.4" textLength="91.5" lengthAdjust="spacingAndGlyphs">Mobility</text>
<text transform="translate(758.2 176.0) rotate(-90)" font-size="23.5" font-weight="bold" text-anchor="middle" fill="#000" stroke="#000" stroke-width="0.4" textLength="99.5" lengthAdjust="spacingAndGlyphs">(cm<tspan font-size="14" dy="-8">2</tspan><tspan dy="8">/Vs)</tspan></text>
<line x1="903.00" y1="276.70" x2="903.00" y2="460.00" stroke="#e0e0e0" stroke-width="1.6" />
<line x1="1030.50" y1="276.70" x2="1030.50" y2="460.00" stroke="#e0e0e0" stroke-width="1.6" />
<line x1="1158.70" y1="276.70" x2="1158.70" y2="460.00" stroke="#e0e0e0" stroke-width="1.6" />
<line x1="853.00" y1="294.70" x2="1208.90" y2="294.70" stroke="#d9d9d9" stroke-width="1.5" />
<line x1="853.00" y1="368.40" x2="1208.90" y2="368.40" stroke="#d9d9d9" stroke-width="1.5" />
<line x1="853.00" y1="442.00" x2="1208.90" y2="442.00" stroke="#d9d9d9" stroke-width="1.5" />
<line x1="903.20" y1="362.60" x2="903.20" y2="383.10" stroke="#f00" stroke-width="2.4" />
<line x1="895.80" y1="362.60" x2="910.60" y2="362.60" stroke="#f00" stroke-width="1.9" />
<line x1="895.80" y1="383.10" x2="910.60" y2="383.10" stroke="#f00" stroke-width="1.9" />
<polygon points="903.20,366.32 894.90,375.22 911.50,375.22" fill="#fff" stroke="#f00" stroke-width="2.2" stroke-linejoin="miter"/>
<line x1="1030.60" y1="377.20" x2="1030.60" y2="399.60" stroke="#f00" stroke-width="2.4" />
<line x1="1023.20" y1="377.20" x2="1038.00" y2="377.20" stroke="#f00" stroke-width="1.9" />
<line x1="1023.20" y1="399.60" x2="1038.00" y2="399.60" stroke="#f00" stroke-width="1.9" />
<polygon points="1030.60,381.87 1022.30,390.77 1038.90,390.77" fill="#fff" stroke="#f00" stroke-width="2.2" stroke-linejoin="miter"/>
<line x1="1158.80" y1="392.60" x2="1158.80" y2="407.60" stroke="#f00" stroke-width="2.4" />
<line x1="1151.40" y1="392.60" x2="1166.20" y2="392.60" stroke="#f00" stroke-width="1.9" />
<line x1="1151.40" y1="407.60" x2="1166.20" y2="407.60" stroke="#f00" stroke-width="1.9" />
<polygon points="1158.80,393.57 1150.50,402.47 1167.10,402.47" fill="#fff" stroke="#f00" stroke-width="2.2" stroke-linejoin="miter"/>
<rect x="853.00" y="276.70" width="355.90" height="183.30" fill="none" stroke="#f00" stroke-width="1.8"/>
<line x1="852.10" y1="275.80" x2="852.10" y2="460.90" stroke="#f00" stroke-width="3.1" />
<line x1="1209.20" y1="275.80" x2="1209.20" y2="460.90" stroke="#f00" stroke-width="3.2" />
<line x1="846.00" y1="294.70" x2="853.00" y2="294.70" stroke="#f00" stroke-width="1.4" />
<text x="842.20" y="299.50" font-size="13.6" font-weight="bold" text-anchor="end" fill="#f00" textLength="34.00" lengthAdjust="spacingAndGlyphs" stroke="#f00" stroke-width="0.35">0.6</text>
<line x1="846.00" y1="368.40" x2="853.00" y2="368.40" stroke="#f00" stroke-width="1.4" />
<text x="842.20" y="373.20" font-size="13.6" font-weight="bold" text-anchor="end" fill="#f00" textLength="34.00" lengthAdjust="spacingAndGlyphs" stroke="#f00" stroke-width="0.35">0.4</text>
<line x1="846.00" y1="442.00" x2="853.00" y2="442.00" stroke="#f00" stroke-width="1.4" />
<text x="842.20" y="446.80" font-size="13.6" font-weight="bold" text-anchor="end" fill="#f00" textLength="34.00" lengthAdjust="spacingAndGlyphs" stroke="#f00" stroke-width="0.35">0.2</text>
<line x1="848.50" y1="331.55" x2="853.00" y2="331.55" stroke="#f00" stroke-width="1.4" />
<line x1="848.50" y1="405.20" x2="853.00" y2="405.20" stroke="#f00" stroke-width="1.4" />
<text transform="translate(730.5 353) rotate(-90)" font-size="23.5" font-weight="bold" text-anchor="middle" fill="#f00" stroke="#f00" stroke-width="0.5" textLength="124.5" lengthAdjust="spacingAndGlyphs">SS (V/dec )</text>
<line x1="903.00" y1="475.90" x2="903.00" y2="658.90" stroke="#e0e0e0" stroke-width="1.6" />
<line x1="1030.50" y1="475.90" x2="1030.50" y2="658.90" stroke="#e0e0e0" stroke-width="1.6" />
<line x1="1158.70" y1="475.90" x2="1158.70" y2="658.90" stroke="#e0e0e0" stroke-width="1.6" />
<line x1="853.00" y1="526.60" x2="1208.90" y2="526.60" stroke="#e6e6e6" stroke-width="1.5" />
<line x1="853.00" y1="577.00" x2="1208.90" y2="577.00" stroke="#e6e6e6" stroke-width="1.5" />
<line x1="903.30" y1="555.40" x2="903.30" y2="579.40" stroke="#1010f0" stroke-width="2.4" />
<line x1="896.10" y1="555.40" x2="910.50" y2="555.40" stroke="#1010f0" stroke-width="1.9" />
<line x1="896.10" y1="579.40" x2="910.50" y2="579.40" stroke="#1010f0" stroke-width="1.9" />
<polygon points="903.30,562.50 893.90,567.40 903.30,572.30 912.70,567.40" fill="#fff" stroke="#1010f0" stroke-width="2.0" stroke-linejoin="miter"/>
<line x1="1030.80" y1="582.10" x2="1030.80" y2="599.50" stroke="#1010f0" stroke-width="2.4" />
<line x1="1023.60" y1="582.10" x2="1038.00" y2="582.10" stroke="#1010f0" stroke-width="1.9" />
<line x1="1023.60" y1="599.50" x2="1038.00" y2="599.50" stroke="#1010f0" stroke-width="1.9" />
<polygon points="1030.80,586.20 1021.40,591.10 1030.80,596.00 1040.20,591.10" fill="#fff" stroke="#1010f0" stroke-width="2.0" stroke-linejoin="miter"/>
<line x1="1159.00" y1="595.90" x2="1159.00" y2="613.60" stroke="#1010f0" stroke-width="2.4" />
<line x1="1151.80" y1="595.90" x2="1166.20" y2="595.90" stroke="#1010f0" stroke-width="1.9" />
<line x1="1151.80" y1="613.60" x2="1166.20" y2="613.60" stroke="#1010f0" stroke-width="1.9" />
<polygon points="1159.00,600.00 1149.60,604.90 1159.00,609.80 1168.40,604.90" fill="#fff" stroke="#1010f0" stroke-width="2.0" stroke-linejoin="miter"/>
<rect x="853.00" y="475.90" width="355.90" height="183.00" fill="none" stroke="#1010f0" stroke-width="2.3"/>
<line x1="852.10" y1="474.75" x2="852.10" y2="660.05" stroke="#1010f0" stroke-width="3.1" />
<line x1="1209.20" y1="474.75" x2="1209.20" y2="660.05" stroke="#1010f0" stroke-width="3.2" />
<line x1="846.00" y1="475.60" x2="853.00" y2="475.60" stroke="#1010f0" stroke-width="1.5" />
<text x="750.40" y="481.00" font-size="13.8" font-weight="bold" text-anchor="start" fill="#1010f0" textLength="74.80" lengthAdjust="spacingAndGlyphs" stroke="#1010f0" stroke-width="0.35">2.0x10</text>
<text x="827.00" y="474.70" font-size="9.8" font-weight="bold" text-anchor="start" fill="#1010f0" textLength="15.60" lengthAdjust="spacingAndGlyphs" stroke="#1010f0" stroke-width="0.25">12</text>
<line x1="846.00" y1="526.60" x2="853.00" y2="526.60" stroke="#1010f0" stroke-width="1.5" />
<text x="750.40" y="532.00" font-size="13.8" font-weight="bold" text-anchor="start" fill="#1010f0" textLength="74.80" lengthAdjust="spacingAndGlyphs" stroke="#1010f0" stroke-width="0.35">1.5x10</text>
<text x="827.00" y="525.70" font-size="9.8" font-weight="bold" text-anchor="start" fill="#1010f0" textLength="15.60" lengthAdjust="spacingAndGlyphs" stroke="#1010f0" stroke-width="0.25">12</text>
<line x1="846.00" y1="577.00" x2="853.00" y2="577.00" stroke="#1010f0" stroke-width="1.5" />
<text x="750.40" y="582.40" font-size="13.8" font-weight="bold" text-anchor="start" fill="#1010f0" textLength="74.80" lengthAdjust="spacingAndGlyphs" stroke="#1010f0" stroke-width="0.35">1.0x10</text>
<text x="827.00" y="576.10" font-size="9.8" font-weight="bold" text-anchor="start" fill="#1010f0" textLength="15.60" lengthAdjust="spacingAndGlyphs" stroke="#1010f0" stroke-width="0.25">12</text>
<line x1="846.00" y1="628.00" x2="853.00" y2="628.00" stroke="#1010f0" stroke-width="1.5" />
<text x="750.40" y="633.40" font-size="13.8" font-weight="bold" text-anchor="start" fill="#1010f0" textLength="74.80" lengthAdjust="spacingAndGlyphs" stroke="#1010f0" stroke-width="0.35">5.0x10</text>
<text x="827.00" y="627.10" font-size="9.8" font-weight="bold" text-anchor="start" fill="#1010f0" textLength="15.60" lengthAdjust="spacingAndGlyphs" stroke="#1010f0" stroke-width="0.25">11</text>
<line x1="848.50" y1="501.10" x2="853.00" y2="501.10" stroke="#1010f0" stroke-width="1.4" />
<line x1="848.50" y1="551.80" x2="853.00" y2="551.80" stroke="#1010f0" stroke-width="1.4" />
<line x1="848.50" y1="602.50" x2="853.00" y2="602.50" stroke="#1010f0" stroke-width="1.4" />
<line x1="848.50" y1="653.50" x2="853.00" y2="653.50" stroke="#1010f0" stroke-width="1.4" />
<line x1="903.00" y1="658.90" x2="903.00" y2="662.70" stroke="#1010f0" stroke-width="2.4" />
<line x1="1030.50" y1="658.90" x2="1030.50" y2="662.70" stroke="#1010f0" stroke-width="2.4" />
<line x1="1158.70" y1="658.90" x2="1158.70" y2="662.70" stroke="#1010f0" stroke-width="2.4" />
<text transform="translate(729 598) rotate(-90) scale(1.04 1)" font-size="23.5" font-weight="bold" fill="#1010f0" stroke="#1010f0" stroke-width="0.4">N<tspan font-size="14.5" dy="6">max</tspan><tspan dy="-6"> (/cm</tspan><tspan font-size="14" dy="-8">2</tspan><tspan dy="8">)</tspan></text>
<text x="904.00" y="690.00" font-size="23" font-weight="bold" text-anchor="middle" fill="#000" textLength="86.30" lengthAdjust="spacingAndGlyphs" stroke="#000" stroke-width="0.3">Pristine</text>
<text x="1031.00" y="690.00" font-size="23" font-weight="bold" text-anchor="middle" fill="#000" textLength="49.40" lengthAdjust="spacingAndGlyphs" stroke="#000" stroke-width="0.3">SRD</text>
<text x="1160.80" y="690.00" font-size="23" font-weight="bold" text-anchor="middle" fill="#000" textLength="50.20" lengthAdjust="spacingAndGlyphs" stroke="#000" stroke-width="0.3">SRD</text>
<text x="899.70" y="719.20" font-size="23" font-weight="bold" text-anchor="middle" fill="#000" textLength="78.40" lengthAdjust="spacingAndGlyphs" stroke="#000" stroke-width="0.3">(40nm)</text>
<text x="1031.10" y="719.20" font-size="23" font-weight="bold" text-anchor="middle" fill="#000" textLength="78.40" lengthAdjust="spacingAndGlyphs" stroke="#000" stroke-width="0.3">(40nm)</text>
<text x="1160.70" y="719.20" font-size="23" font-weight="bold" text-anchor="middle" fill="#000" textLength="78.40" lengthAdjust="spacingAndGlyphs" stroke="#000" stroke-width="0.3">(30nm)</text>
</g>
<g id="panel-c">
<text transform="translate(1225.6 42.2) scale(0.98 1)" font-size="47" font-weight="bold" letter-spacing="1.2" fill="#000" stroke="#000" stroke-width="0.4">(c)</text>
<line x1="1486.40" y1="87.20" x2="1486.40" y2="621.70" stroke="#cdcdcd" stroke-width="1.5" />
<line x1="1583.80" y1="87.20" x2="1583.80" y2="621.70" stroke="#cdcdcd" stroke-width="1.5" />
<line x1="1681.10" y1="87.20" x2="1681.10" y2="621.70" stroke="#cdcdcd" stroke-width="1.5" />
<line x1="1778.80" y1="87.20" x2="1778.80" y2="621.70" stroke="#cdcdcd" stroke-width="1.5" />
<line x1="1390.20" y1="256.60" x2="1876.80" y2="256.60" stroke="#cdcdcd" stroke-width="1.5" />
<line x1="1390.20" y1="424.60" x2="1876.80" y2="424.60" stroke="#cdcdcd" stroke-width="1.5" />
<line x1="1390.20" y1="593.80" x2="1876.80" y2="593.80" stroke="#cdcdcd" stroke-width="1.5" />
<clipPath id="clipC"><rect x="1387.2" y="87.2" width="490.5999999999999" height="534.5"/></clipPath>
<g clip-path="url(#clipC)">
<polyline points="1390.0,595.2 1413.9,595.2 1448.7,595.2 1489.0,595.3 1529.6,595.3 1565.0,595.3 1590.0,595.2 1603.4,595.1 1609.1,595.0 1609.8,594.8 1607.9,594.6 1605.8,594.4 1606.0,594.2 1608.1,594.0 1610.0,593.7 1611.8,593.5 1613.5,593.2 1615.2,592.9 1617.0,592.6 1618.8,592.2 1620.6,591.9 1622.4,591.5 1624.3,591.0 1626.1,590.5 1628.0,590.0 1630.0,589.4 1632.1,588.6 1634.2,587.9 1636.3,587.1 1638.2,586.3 1640.0,585.6 1641.5,585.0 1642.7,584.4 1643.9,583.8 1645.0,583.3 1646.2,582.6 1647.6,581.8 1649.3,580.8 1651.1,579.8 1653.0,578.6 1654.9,577.4 1656.9,576.2 1658.8,575.0 1660.6,573.9 1662.4,572.9 1664.2,571.9 1666.0,570.9 1667.9,569.7 1670.0,568.3 1672.3,566.7 1674.8,564.9 1677.4,563.0 1680.0,561.0 1682.6,559.0 1685.0,557.0 1687.2,555.0 1689.2,553.1 1691.1,551.1 1693.1,549.1 1695.3,546.8 1697.8,544.3 1700.6,541.5 1703.7,538.5 1706.9,535.3 1710.3,532.0 1713.7,528.6 1717.0,525.2 1720.1,522.0 1722.9,519.1 1725.8,516.0 1728.9,512.6 1732.6,508.6 1737.0,503.7 1742.4,497.6 1748.6,490.6 1755.3,482.9 1762.3,474.9 1769.2,467.0 1775.9,459.5 1782.3,452.4 1788.8,445.4 1795.2,438.4 1801.6,431.5 1808.1,424.7 1814.5,417.9 1821.1,411.0 1827.9,403.9 1834.8,396.9 1841.4,390.2 1847.6,384.0 1853.2,378.6 1858.3,373.8 1863.1,369.6 1867.5,365.8 1871.4,362.6 1874.6,360.0 1877.0,358.0" fill="none" stroke="#000" stroke-width="4.3" stroke-linejoin="round" stroke-linecap="round"/>
<rect x="1421.50" y="591.30" width="7.6" height="7.8" fill="#fff" stroke="#000" stroke-width="1.8"/>
<rect x="1460.40" y="591.30" width="7.6" height="7.8" fill="#fff" stroke="#000" stroke-width="1.8"/>
<rect x="1499.70" y="591.30" width="7.6" height="7.8" fill="#fff" stroke="#000" stroke-width="1.8"/>
<rect x="1538.60" y="591.30" width="7.6" height="7.8" fill="#fff" stroke="#000" stroke-width="1.8"/>
<rect x="1577.40" y="591.30" width="7.6" height="7.8" fill="#fff" stroke="#000" stroke-width="1.8"/>
<rect x="1616.70" y="587.87" width="7.6" height="7.8" fill="#fff" stroke="#000" stroke-width="1.8"/>
<rect x="1655.00" y="571.10" width="7.6" height="7.8" fill="#fff" stroke="#000" stroke-width="1.8"/>
<rect x="1693.90" y="540.50" width="7.6" height="7.8" fill="#fff" stroke="#000" stroke-width="1.8"/>
<rect x="1732.90" y="500.12" width="7.6" height="7.8" fill="#fff" stroke="#000" stroke-width="1.8"/>
<rect x="1771.50" y="456.28" width="7.6" height="7.8" fill="#fff" stroke="#000" stroke-width="1.8"/>
<rect x="1810.40" y="414.32" width="7.6" height="7.8" fill="#fff" stroke="#000" stroke-width="1.8"/>
<rect x="1849.40" y="374.70" width="7.6" height="7.8" fill="#fff" stroke="#000" stroke-width="1.8"/>
<polyline points="1390.0,595.0 1413.3,595.0 1447.1,595.0 1486.4,595.1 1525.9,595.1 1560.5,595.1 1585.0,595.0 1598.3,594.9 1604.3,594.8 1605.4,594.6 1604.0,594.4 1602.4,594.2 1603.0,594.0 1605.3,593.8 1607.4,593.5 1609.3,593.2 1611.1,592.9 1613.0,592.5 1615.0,592.0 1617.1,591.5 1619.3,590.9 1621.5,590.3 1623.7,589.6 1625.9,588.8 1628.0,587.8 1630.1,586.6 1632.2,585.3 1634.3,583.8 1636.4,582.3 1638.3,580.9 1640.0,579.6 1641.5,578.5 1642.7,577.6 1643.9,576.8 1645.0,575.9 1646.2,574.9 1647.6,573.6 1649.3,572.1 1651.1,570.3 1653.0,568.5 1654.9,566.5 1656.9,564.4 1658.8,562.3 1660.6,560.2 1662.4,558.0 1664.2,555.7 1666.0,553.3 1667.9,550.8 1670.0,548.0 1672.3,545.0 1674.8,541.7 1677.4,538.2 1680.0,534.6 1682.5,531.2 1685.0,527.8 1687.3,524.8 1689.4,522.0 1691.5,519.2 1693.7,516.3 1696.0,513.0 1698.5,509.0 1701.3,504.3 1704.2,499.0 1707.3,493.3 1710.5,487.4 1713.7,481.4 1717.0,475.5 1720.1,470.0 1723.1,465.0 1726.1,459.9 1729.3,454.2 1733.1,447.4 1737.6,439.2 1743.0,429.1 1749.0,417.4 1755.6,404.7 1762.5,391.5 1769.3,378.2 1775.9,365.5 1782.3,353.1 1788.7,340.7 1795.1,328.3 1801.5,315.9 1808.0,303.7 1814.5,291.7 1821.3,279.6 1828.4,267.3 1835.5,255.1 1842.4,243.4 1848.8,232.7 1854.5,223.3 1859.5,215.1 1864.1,207.8 1868.2,201.4 1871.8,195.9 1874.8,191.5 1877.0,188.0" fill="none" stroke="#f00" stroke-width="4.8" stroke-linejoin="round" stroke-linecap="round"/>
<circle cx="1425.70" cy="595.00" r="4.2" fill="#fff" stroke="#f00" stroke-width="1.8"/>
<circle cx="1464.60" cy="595.00" r="4.2" fill="#fff" stroke="#f00" stroke-width="1.8"/>
<circle cx="1503.90" cy="595.00" r="4.2" fill="#fff" stroke="#f00" stroke-width="1.8"/>
<circle cx="1542.80" cy="595.00" r="4.2" fill="#fff" stroke="#f00" stroke-width="1.8"/>
<circle cx="1581.60" cy="595.00" r="4.2" fill="#fff" stroke="#f00" stroke-width="1.8"/>
<circle cx="1620.90" cy="590.09" r="4.2" fill="#fff" stroke="#f00" stroke-width="1.8"/>
<circle cx="1659.20" cy="561.79" r="4.2" fill="#fff" stroke="#f00" stroke-width="1.8"/>
<circle cx="1698.10" cy="509.56" r="4.2" fill="#fff" stroke="#f00" stroke-width="1.8"/>
<circle cx="1737.10" cy="440.08" r="4.2" fill="#fff" stroke="#f00" stroke-width="1.8"/>
<circle cx="1775.70" cy="365.88" r="4.2" fill="#fff" stroke="#f00" stroke-width="1.8"/>
<circle cx="1814.60" cy="291.53" r="4.2" fill="#fff" stroke="#f00" stroke-width="1.8"/>
<circle cx="1853.60" cy="224.84" r="4.2" fill="#fff" stroke="#f00" stroke-width="1.8"/>
<polyline points="1390.0,594.0 1412.4,594.0 1445.0,594.0 1482.8,594.1 1520.8,594.1 1554.2,594.1 1578.0,594.0 1591.1,593.9 1597.4,593.8 1599.0,593.6 1598.1,593.5 1597.1,593.3 1598.0,593.0 1600.5,592.7 1602.6,592.3 1604.6,592.0 1606.4,591.5 1608.2,591.1 1610.0,590.6 1611.9,590.1 1613.7,589.5 1615.5,588.9 1617.3,588.3 1618.9,587.7 1620.5,587.0 1621.9,586.4 1623.1,585.8 1624.2,585.2 1625.3,584.6 1626.5,583.7 1628.0,582.6 1629.8,581.2 1631.8,579.4 1634.0,577.5 1636.2,575.5 1638.2,573.7 1640.0,572.0 1641.5,570.7 1642.7,569.5 1643.8,568.5 1644.9,567.4 1646.1,566.1 1647.6,564.5 1649.4,562.4 1651.3,560.1 1653.4,557.5 1655.5,554.8 1657.5,552.1 1659.5,549.5 1661.3,547.1 1662.9,544.8 1664.6,542.5 1666.2,540.1 1668.0,537.4 1670.0,534.5 1672.3,531.1 1674.9,527.1 1677.7,523.0 1680.4,518.9 1682.9,515.2 1685.0,512.0 1686.7,509.5 1688.1,507.5 1689.3,505.8 1690.4,504.2 1691.4,502.6 1692.6,500.7 1693.7,498.8 1694.7,497.2 1695.6,495.5 1696.7,493.5 1698.1,490.8 1699.9,487.3 1702.3,482.8 1705.1,477.4 1708.1,471.4 1711.4,465.0 1714.7,458.5 1718.0,452.0 1721.0,445.9 1723.9,440.0 1726.8,433.9 1730.0,427.3 1733.7,419.6 1738.2,410.4 1743.6,399.4 1749.7,386.7 1756.4,373.0 1763.3,358.9 1770.2,344.7 1776.9,331.1 1783.3,317.9 1789.7,304.7 1796.2,291.5 1802.6,278.4 1809.0,265.4 1815.5,252.8 1822.2,240.1 1829.2,227.3 1836.2,214.6 1842.9,202.5 1849.2,191.3 1854.8,181.4 1859.7,172.6 1864.3,164.7 1868.4,157.7 1871.9,151.7 1874.8,146.8 1877.0,143.0" fill="none" stroke="#00f" stroke-width="5.4" stroke-linejoin="round" stroke-linecap="round"/>
<polygon points="1426.00,586.27 1421.80,596.67 1430.20,596.67" fill="#fff" stroke="#00f" stroke-width="1.9" stroke-linejoin="miter"/>
<polygon points="1464.90,586.27 1460.70,596.67 1469.10,596.67" fill="#fff" stroke="#00f" stroke-width="1.9" stroke-linejoin="miter"/>
<polygon points="1504.20,586.27 1500.00,596.67 1508.40,596.67" fill="#fff" stroke="#00f" stroke-width="1.9" stroke-linejoin="miter"/>
<polygon points="1543.10,586.27 1538.90,596.67 1547.30,596.67" fill="#fff" stroke="#00f" stroke-width="1.9" stroke-linejoin="miter"/>
<polygon points="1581.90,586.07 1577.70,596.47 1586.10,596.47" fill="#fff" stroke="#00f" stroke-width="1.9" stroke-linejoin="miter"/>
<polygon points="1621.20,578.86 1617.00,589.26 1625.40,589.26" fill="#fff" stroke="#00f" stroke-width="1.9" stroke-linejoin="miter"/>
<polygon points="1659.50,541.77 1655.30,552.17 1663.70,552.17" fill="#fff" stroke="#00f" stroke-width="1.9" stroke-linejoin="miter"/>
<polygon points="1698.40,482.32 1694.20,492.72 1702.60,492.72" fill="#fff" stroke="#00f" stroke-width="1.9" stroke-linejoin="miter"/>
<polygon points="1737.40,404.31 1733.20,414.71 1741.60,414.71" fill="#fff" stroke="#00f" stroke-width="1.9" stroke-linejoin="miter"/>
<polygon points="1776.00,325.21 1771.80,335.61 1780.20,335.61" fill="#fff" stroke="#00f" stroke-width="1.9" stroke-linejoin="miter"/>
<polygon points="1814.90,246.28 1810.70,256.68 1819.10,256.68" fill="#fff" stroke="#00f" stroke-width="1.9" stroke-linejoin="miter"/>
<polygon points="1853.90,175.30 1849.70,185.70 1858.10,185.70" fill="#fff" stroke="#00f" stroke-width="1.9" stroke-linejoin="miter"/>
</g>
<line x1="1389.50" y1="84.90" x2="1389.50" y2="623.90" stroke="#000" stroke-width="3.5" />
<line x1="1876.80" y1="84.90" x2="1876.80" y2="624.10" stroke="#000" stroke-width="4.6" />
<line x1="1388.20" y1="87.20" x2="1879.10" y2="87.20" stroke="#000" stroke-width="4.6" />
<line x1="1387.80" y1="621.70" x2="1879.10" y2="621.70" stroke="#000" stroke-width="4.3" />
<line x1="1379.70" y1="87.60" x2="1390.20" y2="87.60" stroke="#000" stroke-width="3.5" />
<line x1="1379.70" y1="256.60" x2="1390.20" y2="256.60" stroke="#000" stroke-width="3.5" />
<line x1="1379.70" y1="424.60" x2="1390.20" y2="424.60" stroke="#000" stroke-width="3.5" />
<line x1="1379.70" y1="593.80" x2="1390.20" y2="593.80" stroke="#000" stroke-width="3.5" />
<line x1="1383.70" y1="172.20" x2="1390.20" y2="172.20" stroke="#000" stroke-width="2.6" />
<line x1="1383.70" y1="340.60" x2="1390.20" y2="340.60" stroke="#000" stroke-width="2.6" />
<line x1="1383.70" y1="508.80" x2="1390.20" y2="508.80" stroke="#000" stroke-width="2.6" />
<line x1="1390.20" y1="621.70" x2="1390.20" y2="632.20" stroke="#000" stroke-width="3.2" />
<line x1="1486.40" y1="621.70" x2="1486.40" y2="632.20" stroke="#000" stroke-width="3.2" />
<line x1="1583.80" y1="621.70" x2="1583.80" y2="632.20" stroke="#000" stroke-width="3.2" />
<line x1="1681.10" y1="621.70" x2="1681.10" y2="632.20" stroke="#000" stroke-width="3.2" />
<line x1="1778.80" y1="621.70" x2="1778.80" y2="632.20" stroke="#000" stroke-width="3.2" />
<line x1="1876.40" y1="621.70" x2="1876.40" y2="632.20" stroke="#000" stroke-width="3.2" />
<line x1="1437.70" y1="621.70" x2="1437.70" y2="627.90" stroke="#000" stroke-width="2.8" />
<line x1="1535.10" y1="621.70" x2="1535.10" y2="627.90" stroke="#000" stroke-width="2.8" />
<line x1="1632.50" y1="621.70" x2="1632.50" y2="627.90" stroke="#000" stroke-width="2.8" />
<line x1="1729.90" y1="621.70" x2="1729.90" y2="627.90" stroke="#000" stroke-width="2.8" />
<line x1="1827.30" y1="621.70" x2="1827.30" y2="627.90" stroke="#000" stroke-width="2.8" />
<text x="1389.60" y="658.20" font-size="28.2" font-weight="bold" text-anchor="middle" fill="#000" textLength="38.00" lengthAdjust="spacingAndGlyphs" stroke="#000" stroke-width="0.4" >-20</text>
<text x="1486.30" y="658.20" font-size="28.2" font-weight="bold" text-anchor="middle" fill="#000" textLength="36.00" lengthAdjust="spacingAndGlyphs" stroke="#000" stroke-width="0.4" >-10</text>
<text x="1583.80" y="658.20" font-size="28.2" font-weight="bold" text-anchor="middle" fill="#000" textLength="13.00" lengthAdjust="spacingAndGlyphs" stroke="#000" stroke-width="0.4" >0</text>
<text x="1681.80" y="658.20" font-size="28.2" font-weight="bold" text-anchor="middle" fill="#000" textLength="26.60" lengthAdjust="spacingAndGlyphs" stroke="#000" stroke-width="0.4" >10</text>
<text x="1778.40" y="658.20" font-size="28.2" font-weight="bold" text-anchor="middle" fill="#000" textLength="28.20" lengthAdjust="spacingAndGlyphs" stroke="#000" stroke-width="0.4" >20</text>
<text x="1875.80" y="658.20" font-size="28.2" font-weight="bold" text-anchor="middle" fill="#000" textLength="29.60" lengthAdjust="spacingAndGlyphs" stroke="#000" stroke-width="0.4" >30</text>
<text x="1295.50" y="97.90" font-size="25.7" font-weight="bold" text-anchor="start" fill="#000" textLength="70.40" lengthAdjust="spacingAndGlyphs" stroke="#000" stroke-width="0.4" >9.0x10</text>
<text x="1365.00" y="83.30" font-size="16.2" font-weight="bold" text-anchor="start" fill="#000" textLength="12.60" lengthAdjust="spacingAndGlyphs" stroke="#000" stroke-width="0.4" >-4</text>
<text x="1295.50" y="266.90" font-size="25.7" font-weight="bold" text-anchor="start" fill="#000" textLength="70.40" lengthAdjust="spacingAndGlyphs" stroke="#000" stroke-width="0.4" >6.0x10</text>
<text x="1365.00" y="252.30" font-size="16.2" font-weight="bold" text-anchor="start" fill="#000" textLength="12.60" lengthAdjust="spacingAndGlyphs" stroke="#000" stroke-width="0.4" >-4</text>
<text x="1295.50" y="434.90" font-size="25.7" font-weight="bold" text-anchor="start" fill="#000" textLength="70.40" lengthAdjust="spacingAndGlyphs" stroke="#000" stroke-width="0.4" >3.0x10</text>
<text x="1365.00" y="420.30" font-size="16.2" font-weight="bold" text-anchor="start" fill="#000" textLength="12.60" lengthAdjust="spacingAndGlyphs" stroke="#000" stroke-width="0.4" >-4</text>
<text x="1345.60" y="596.40" font-size="25.7" font-weight="bold" text-anchor="start" fill="#000" textLength="31.40" lengthAdjust="spacingAndGlyphs" stroke="#000" stroke-width="0.4" >0.0</text>
<text x="1563.00" y="704.20" font-size="37.6" font-weight="bold" text-anchor="start" fill="#000" textLength="26.00" lengthAdjust="spacingAndGlyphs" stroke="#000" stroke-width="0.4" >V</text>
<text x="1588.00" y="721.80" font-size="25" font-weight="bold" text-anchor="start" fill="#000" textLength="19.00" lengthAdjust="spacingAndGlyphs" stroke="#000" stroke-width="0.4" >G</text>
<text x="1616.60" y="704.20" font-size="37.6" font-weight="bold" text-anchor="start" fill="#000" textLength="48.80" lengthAdjust="spacingAndGlyphs" stroke="#000" stroke-width="0.4" >(V)</text>
<text transform="translate(1285.7 388.0) rotate(-90) scale(0.99 1)" font-size="44.4" font-weight="bold" fill="#000" stroke="#000" stroke-width="0.4">I<tspan font-size="24" dy="14.5">D</tspan><tspan dy="-14.5" font-size="44.4"> (A)</tspan></text>
<line x1="1401.00" y1="129.80" x2="1444.80" y2="129.80" stroke="#000" stroke-width="5.4" stroke-linecap="round"/>
<rect x="1417.70" y="125.00" width="8.2" height="8.4" fill="#fff" stroke="#000" stroke-width="1.9"/>
<text x="1450.50" y="137.20" font-size="21.4" font-weight="normal" text-anchor="start" fill="#000" textLength="71.00" lengthAdjust="spacingAndGlyphs" stroke="#000" stroke-width="1.0" stroke-linejoin="round">Pristine</text>
<line x1="1401.00" y1="157.50" x2="1444.80" y2="157.50" stroke="#f00" stroke-width="5.4" stroke-linecap="round"/>
<ellipse cx="1422.5" cy="157.70" rx="4.1" ry="5.2" fill="#fff" stroke="#f00" stroke-width="1.9"/>
<text x="1450.50" y="164.90" font-size="21.4" font-weight="normal" text-anchor="start" fill="#000" textLength="108.00" lengthAdjust="spacingAndGlyphs" stroke="#000" stroke-width="1.0" stroke-linejoin="round">SRD (40nm)</text>
<line x1="1401.00" y1="185.20" x2="1444.80" y2="185.20" stroke="#00f" stroke-width="5.4" stroke-linecap="round"/>
<polygon points="1423.00,178.80 1417.70,189.60 1428.30,189.60" fill="#fff" stroke="#00f" stroke-width="2.2" stroke-linejoin="miter"/>
<text x="1450.50" y="192.60" font-size="21.4" font-weight="normal" text-anchor="start" fill="#000" textLength="108.00" lengthAdjust="spacingAndGlyphs" stroke="#000" stroke-width="1.0" stroke-linejoin="round">SRD (30nm)</text>
</g>
</svg>
</body>
</html>
